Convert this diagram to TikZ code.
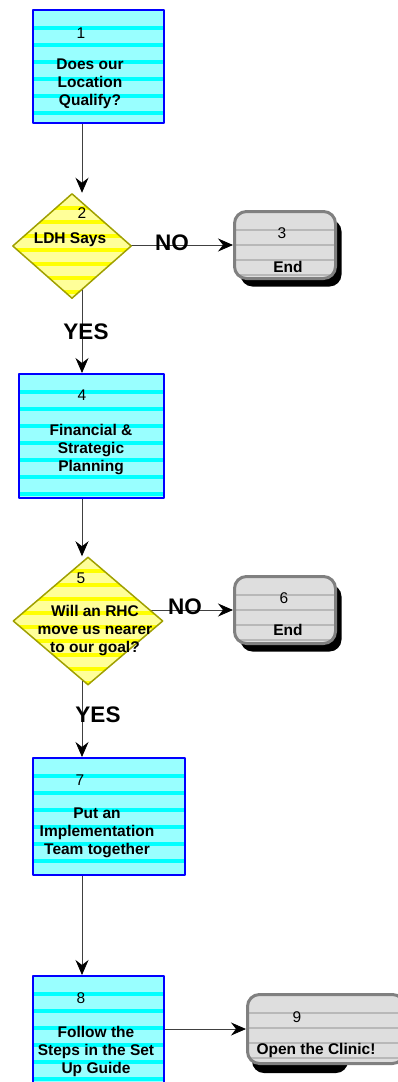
\documentclass[tikz,border=0pt]{standalone}
\usepackage{fontspec}
\setmainfont{Liberation Sans}
\usetikzlibrary{shapes.geometric,arrows.meta,shadows,backgrounds}
\definecolor{cyanlt}{HTML}{99FFFF}
\definecolor{cyanband}{RGB}{0,255,255}
\definecolor{boxblue}{RGB}{0,0,255}
\definecolor{yellowlt}{HTML}{FFFF99}
\definecolor{yellowband}{RGB}{255,255,0}
\definecolor{graylt}{HTML}{DEDEDE}
\definecolor{graystripe}{HTML}{B8B8B8}
\definecolor{grayedge}{HTML}{808080}
\definecolor{olivedge}{HTML}{A0A000}
\definecolor{linegray}{HTML}{404040}
\tikzset{
  stripes/.style n args={4}{path picture={%
    \foreach \k in {0,...,11}
      \fill[#1,sharp corners] ([yshift=-#2-\k*#3]path picture bounding box.north west) rectangle ++(260,#4);}},
}
\begin{document}
\begin{tikzpicture}[x=1pt,y=-1pt,line join=round,font=\fontsize{15.5}{18}\selectfont,
  proc/.style={draw=boxblue,line width=2pt,fill=cyanlt,stripes={cyanband}{16}{17}{4},inner sep=0},
  ques/.style={diamond,draw=olivedge,line width=1.5pt,fill=yellowlt,stripes={yellowband}{12}{14}{4},inner sep=0},
  term/.style={draw=grayedge,line width=3pt,rounded corners=12pt,fill=graylt,stripes={graystripe}{17}{15}{2},inner sep=0},
  shade/.style={drop shadow={shadow xshift=6pt,shadow yshift=-8pt,fill=black,opacity=1}},
  txt/.style={font=\fontsize{15.5}{18}\selectfont\bfseries,align=center,inner sep=0},
  num/.style={inner sep=0},
  lbl/.style={font=\fontsize{22.5}{26}\selectfont\bfseries,inner sep=0},
  arr/.style={draw=linegray,line width=.8pt,-{Stealth[length=15pt,width=13pt,inset=5pt,black]}}]
	\useasboundingbox (0,0) rectangle (398,1082);
	\coordinate (col) at (82,0);
	% 1
	\node[proc,minimum width=131,minimum height=113] (b1) at (98.5,66.5) {};
	\node[num] (n1) at (81,33) {1};
	\node[txt] (t1) at (90,84) {Does our\\Location\\Qualify?};
	% 2, 3
	\node[ques,minimum width=119,minimum height=105] (d2) at (72,246) {};
	\node[num] (n2) at (82,213) {2};
	\node[txt] (t2) at (70,240) {LDH Says};
	\node[term,shade,minimum width=101,minimum height=67] (e3) at (285,245) {};
	\node[num] (n3) at (282,233) {3};
	\node[txt] (t3) at (288,267) {End};
	% 4
	\node[proc,minimum width=145,minimum height=124] (b4) at (91.5,436) {};
	\node[num] (n4) at (82,395) {4};
	\node[txt] (t4) at (91,450) {Financial \&\\Strategic\\Planning};
	% 5, 6
	\node[ques,minimum width=150,minimum height=128] (d5) at (88,621) {};
	\node[num] (n5) at (81,578) {5};
	\node[txt] (t5) at (95,631) {Will an RHC\\move us nearer\\to our goal?};
	\node[term,shade,minimum width=101,minimum height=67] (e6) at (285,610) {};
	\node[num] (n6) at (284,598) {6};
	\node[txt] (t6) at (288,630) {End};
	% 7
	\node[proc,minimum width=152,minimum height=117] (b7) at (109,816.5) {};
	\node[num] (n7) at (80,780) {7};
	\node[txt] (t7) at (97,833) {Put an\\Implementation\\Team together};
	% 8, 9
	\node[proc,minimum width=131,minimum height=113] (b8) at (98.5,1032.5) {};
	\node[num] (n8) at (81,998) {8};
	\node[txt] (t8) at (96,1051) {Follow the\\Steps in the Set\\Up Guide};
	\fill[black,rounded corners=12pt] (252,1010) rectangle (348,1073);
	\node[term,minimum width=157,minimum height=69] (b9) at (326,1029) {};
	\node[num] (n9) at (297,1017) {9};
	\node[txt] (t9) at (316,1050) {Open the Clinic!};
	% labels
	\node[lbl] (no2) at (172,243) {NO};
	\node[lbl] (yes4) at (86,332) {YES};
	\node[lbl] (no5) at (185,607) {NO};
	\node[lbl] (yes7) at (98,715) {YES};
	\begin{scope}[on background layer]
	\draw[arr] (b1.south -| col) -- (d2.north -| col);
	\draw[arr] (d2.center |- e3.west) -- (e3.west);
	\draw[arr] (d2.center -| col) -- (b4.north -| col);
	\draw[arr] (b4.south -| col) -- (d5.north -| col);
	\draw[arr] (d5.center |- e6.west) -- (e6.west);
	\draw[arr] (d5.center -| col) -- (b7.north -| col);
	\draw[arr] (b7.south -| col) -- (b8.north -| col);
	\draw[arr] (b8.east |- b9.west) -- (b9.west);
	\end{scope}
\end{tikzpicture}
\end{document}
